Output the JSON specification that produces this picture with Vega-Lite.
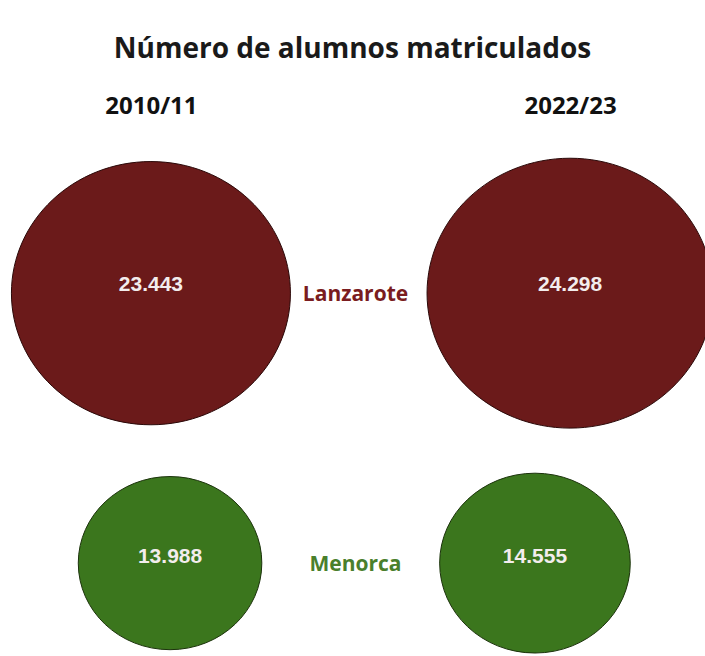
{
  "$schema": "https://vega.github.io/schema/vega-lite/v6.json",
  "width": 705,
  "height": 521,
  "autosize": {"type": "none"},
  "padding": {"top": 135, "left": 0, "right": 0, "bottom": 0},
  "background": "white",
  "title": {
    "text": "Número de alumnos matriculados",
    "font": "Open Sans",
    "fontSize": 28,
    "fontWeight": "bold",
    "color": "#1a1a1a",
    "anchor": "middle",
    "offset": 30
  },
  "config": {
    "view": {"stroke": null},
    "locale": {"number": {"decimal": ",", "thousands": ".", "grouping": [3], "currency": ["", " €"]}}
  },
  "data": {
    "values": [
      {"periodo": "2010/11", "isla": "Lanzarote", "alumnos": 23443},
      {"periodo": "2022/23", "isla": "Lanzarote", "alumnos": 24298},
      {"periodo": "2010/11", "isla": "Menorca", "alumnos": 13988},
      {"periodo": "2022/23", "isla": "Menorca", "alumnos": 14555}
    ]
  },
  "encoding": {
    "y": {
      "field": "isla",
      "type": "nominal",
      "scale": {"type": "point", "domain": ["Lanzarote", "Menorca"], "padding": 0.465, "align": 0.63},
      "axis": null
    }
  },
  "layer": [
    {
      "transform": [{"filter": "datum.isla === 'Lanzarote'"}],
      "encoding": {
        "x": {
          "field": "periodo",
          "type": "nominal",
          "scale": {"type": "point", "domain": ["2010/11", "2022/23"], "padding": 0.341, "align": 0.528},
          "axis": {
            "orient": "top",
            "title": null,
            "domain": false,
            "ticks": false,
            "tickSize": 0,
            "labelPadding": 17,
            "labelAngle": 0,
            "labelFont": "Open Sans",
            "labelFontSize": 24,
            "labelFontWeight": "bold",
            "labelColor": "#111111"
          }
        }
      },
      "layer": [
        {
          "mark": {
            "type": "point",
            "shape": "M-1.06,0A1.06,1,0,1,0,1.06,0A1.06,1,0,1,0,-1.06,0Z",
            "filled": true,
            "opacity": 1,
            "stroke": "#2a0808",
            "strokeWidth": 1
          },
          "encoding": {
            "size": {"field": "alumnos", "type": "quantitative", "scale": {"domain": [13000, 25000], "range": [25876, 75748]}, "legend": null},
            "color": {"field": "isla", "type": "nominal", "scale": {"domain": ["Lanzarote", "Menorca"], "range": ["#6b1a1a", "#3b761d"]}, "legend": null}
          }
        },
        {
          "mark": {"type": "text", "font": "Liberation Sans", "fontSize": 21, "fontWeight": "bold", "color": "#f3eded", "dy": -8},
          "encoding": {"text": {"field": "alumnos", "type": "quantitative", "format": ",d"}}
        }
      ]
    },
    {
      "transform": [{"filter": "datum.isla === 'Menorca'"}],
      "encoding": {
        "x": {
          "field": "periodo",
          "type": "nominal",
          "scale": {"type": "point", "domain": ["2010/11", "2022/23"], "padding": 0.466, "align": 0.5},
          "axis": null
        }
      },
      "layer": [
        {
          "mark": {
            "type": "point",
            "shape": "M-1.06,0A1.06,1,0,1,0,1.06,0A1.06,1,0,1,0,-1.06,0Z",
            "filled": true,
            "opacity": 1,
            "stroke": "#1c330c",
            "strokeWidth": 1
          },
          "encoding": {
            "size": {"field": "alumnos", "type": "quantitative", "scale": {"domain": [13000, 25000], "range": [25876, 75748]}, "legend": null},
            "color": {"field": "isla", "type": "nominal", "scale": {"domain": ["Lanzarote", "Menorca"], "range": ["#6b1a1a", "#3b761d"]}, "legend": null}
          }
        },
        {
          "mark": {"type": "text", "font": "Liberation Sans", "fontSize": 21, "fontWeight": "bold", "color": "#f3eded", "dy": -6},
          "encoding": {"text": {"field": "alumnos", "type": "quantitative", "format": ",d"}}
        }
      ]
    },
    {
      "transform": [{"filter": "datum.periodo === '2010/11'"}],
      "mark": {"type": "text", "font": "Open Sans", "fontSize": 21, "fontWeight": "bold", "dx": 3, "dy": 2},
      "encoding": {
        "text": {"field": "isla", "type": "nominal"},
        "color": {"field": "isla", "type": "nominal", "scale": {"domain": ["Lanzarote", "Menorca"], "range": ["#7a1c20", "#4a7f2c"]}, "legend": null}
      }
    }
  ],
  "resolve": {"scale": {"x": "independent", "color": "independent"}}
}
